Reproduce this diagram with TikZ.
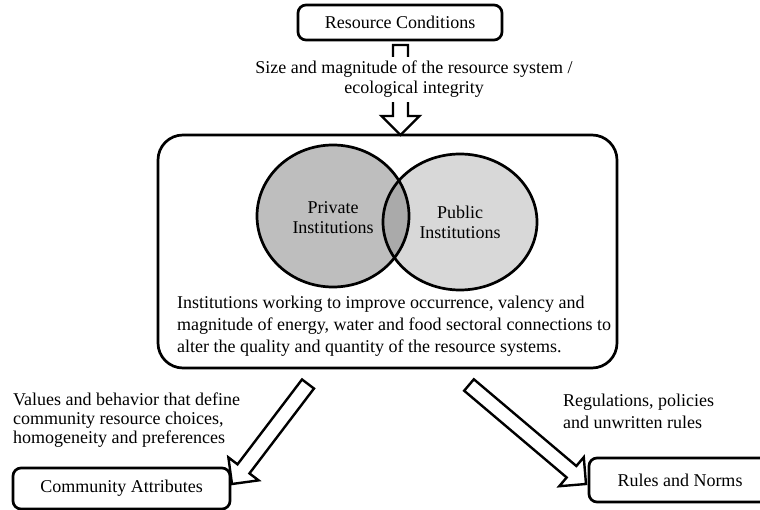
\documentclass[tikz,border=0pt]{standalone}
\usepackage{fontspec}
\setmainfont{Liberation Serif}
\usetikzlibrary{calc}
\definecolor{lgray}{RGB}{190,190,190}
\definecolor{rgray}{RGB}{216,216,216}
\definecolor{mgray}{RGB}{170,170,170}
\newcommand\hollowarrow[2]{%
  \coordinate (hb) at ($(#2)!19pt!(#1)$);
  \draw[hollow] ($(#1)!7.5pt!90:(#2)$) -- ($(hb)!7.5pt!90:(#2)$) -- ($(hb)!19pt!90:(#2)$) -- (#2)
     -- ($(hb)!19pt!-90:(#2)$) -- ($(hb)!7.5pt!-90:(#2)$) -- ($(#1)!7.5pt!-90:(#2)$) -- cycle;
}
\begin{document}
\begin{tikzpicture}[x=1pt,y=-1pt,
  box/.style={draw=black, line width=2.7pt, rounded corners=8pt, fill=white, inner sep=0pt, font=\fontsize{18}{20}\selectfont},
  lbl/.style={inner sep=0pt, align=left},
  hollow/.style={draw=black, line width=2.4pt, fill=white, line join=miter}]
\useasboundingbox (0,0) rectangle (760,510);

% boxes
\node[box, minimum width=204pt, minimum height=35pt] (rc) at (400,22.5) {Resource Conditions};
\node[box, rounded corners=25pt, minimum width=459pt, minimum height=233pt] (inst) at (387.5,251.5) {};
\node[box, minimum width=217pt, minimum height=41pt] (ca) at (121.5,488.5) {Community Attributes};
\node[box, minimum width=182pt, minimum height=44pt] (rn) at (680,480) {Rules and Norms};

% venn
\fill[lgray] (333,216) ellipse [x radius=76, y radius=71];
\fill[rgray] (460,222) ellipse [x radius=77, y radius=68];
\begin{scope}
  \clip (333,216) ellipse [x radius=76, y radius=71];
  \fill[mgray] (460,222) ellipse [x radius=77, y radius=68];
\end{scope}
\draw[line width=2.7pt] (333,216) ellipse [x radius=76, y radius=71];
\draw[line width=2.7pt] (460,222) ellipse [x radius=77, y radius=68];
\node[lbl, align=center, font=\fontsize{18}{20}\selectfont] (priv) at (333,218) {Private\\Institutions};
\node[lbl, align=center, font=\fontsize{18}{20.5}\selectfont] (pub) at (460,222.4) {Public\\Institutions};

\node[lbl, anchor=north west, font=\fontsize{18}{21.7}\selectfont] (desc) at (177,296)
  {Institutions working to improve occurrence, valency and\\magnitude of energy, water and food sectoral connections to\\alter the quality and quantity of the resource systems.};

% arrows
\coordinate (t1) at (400.5,45);  \coordinate (h1) at (400.5,135);
\coordinate (t2) at (308,384);   \coordinate (h2) at (232,484);
\coordinate (t3) at (469,385);   \coordinate (h3) at (586,484);
\hollowarrow{t1}{h1}
\hollowarrow{t2}{h2}
\hollowarrow{t3}{h3}

\node[lbl, align=center, fill=white, inner xsep=2pt, inner ysep=4pt, font=\fontsize{18}{20}\selectfont] (szl) at (414,79.5)
  {Size and magnitude of the resource system /\\ecological integrity};

\node[lbl, anchor=north west, font=\fontsize{18}{19}\selectfont] (vl) at (13,393)
  {Values and behavior that define\\community resource choices,\\homogeneity and preferences};
\node[lbl, anchor=north west, font=\fontsize{18}{21.5}\selectfont] (rl) at (563,394)
  {Regulations, policies\\and unwritten rules};
\end{tikzpicture}
\end{document}
